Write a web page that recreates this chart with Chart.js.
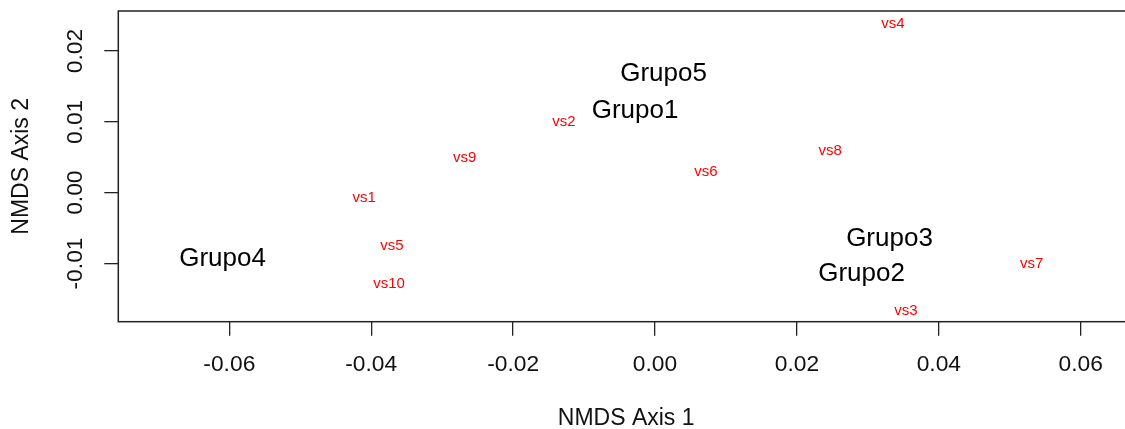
<!DOCTYPE html>
<html>
<head>
<meta charset="utf-8">
<script src="https://cdn.jsdelivr.net/npm/chart.js@4/dist/chart.umd.min.js"></script>
<style>
  html, body { margin: 0; padding: 0; background: #fff; overflow: hidden; }
  #wrap { width: 1140px; height: 429px; }
</style>
</head>
<body>
<div id="wrap"><canvas id="c" width="1140" height="429"></canvas></div>
<script>
// ---- data ----
const siteLabels = ['vs1', 'vs2', 'vs3', 'vs4', 'vs5', 'vs6', 'vs7', 'vs8', 'vs9', 'vs10'];
const siteX = [-0.0410, -0.01285, 0.03538, 0.03352, -0.03707, 0.00719, 0.05309, 0.02467, -0.02682, -0.03749];
const siteY = [-0.00075, 0.01003, -0.01664, 0.02386, -0.00753, 0.00299, -0.01007, 0.00589, 0.00486, -0.01282];

const groupLabels = ['Grupo1', 'Grupo2', 'Grupo3', 'Grupo4', 'Grupo5'];
const groupX = [-0.00282, 0.02911, 0.03305, -0.06096, 0.0012];
const groupY = [0.01154, -0.01148, -0.00647, -0.00929, 0.01677];

const xTicks = [-0.06, -0.04, -0.02, 0.00, 0.02, 0.04, 0.06];
const xTickLabels = ['-0.06', '-0.04', '-0.02', '0.00', '0.02', '0.04', '0.06'];
const yTicks = [-0.01, 0.00, 0.01, 0.02];
const yTickLabels = ['-0.01', '0.00', '0.01', '0.02'];

const xRange = [-0.07565, 0.06751];
const yRange = [-0.01822, 0.02566];

const xTitle = 'NMDS Axis 1';
const yTitle = 'NMDS Axis 2';

// ---- styles ----
const FONT = '"Liberation Sans", Arial, Helvetica, sans-serif';
const toPts = (xs, ys) => xs.map((x, i) => ({ x: x, y: ys[i] }));

const textLabels = {
  id: 'textLabels',
  afterDatasetsDraw(chart) {
    const ctx = chart.ctx;
    chart.data.datasets.forEach((ds, di) => {
      const meta = chart.getDatasetMeta(di);
      ctx.save();
      ctx.fillStyle = ds.textColor;
      ctx.font = ds.textFont;
      ctx.textAlign = 'center';
      ctx.textBaseline = 'middle';
      meta.data.forEach((el, i) => {
        ctx.fillText(ds.labels[i], el.x, el.y);
      });
      ctx.restore();
    });
  },
  afterDraw(chart) {
    const ctx = chart.ctx;
    const a = chart.chartArea;
    ctx.save();
    ctx.strokeStyle = '#222';
    ctx.lineWidth = 1.5;
    ctx.strokeRect(a.left, a.top, a.right - a.left, a.bottom - a.top);
    // rotated y tick labels (R style, parallel to axis)
    const ys = chart.scales.y;
    ctx.fillStyle = '#111';
    ctx.font = '22.8px ' + FONT;
    ctx.textAlign = 'center';
    ctx.textBaseline = 'middle';
    yTicks.forEach((v, i) => {
      const py = ys.getPixelForValue(v);
      ctx.save();
      ctx.translate(76, py);
      ctx.rotate(-Math.PI / 2);
      ctx.fillText(yTickLabels[i], 0, 0);
      ctx.restore();
    });
    ctx.restore();
  }
};

new Chart(document.getElementById('c'), {
  type: 'scatter',
  data: {
    datasets: [
      { data: toPts(siteX, siteY), labels: siteLabels, textColor: '#ff0000', textFont: '15px ' + FONT, pointRadius: 0 },
      { data: toPts(groupX, groupY), labels: groupLabels, textColor: '#000000', textFont: '26px ' + FONT, pointRadius: 0 }
    ]
  },
  options: {
    responsive: false,
    animation: false,
    devicePixelRatio: 1,
    layout: { padding: { top: 11, right: 6, left: 0, bottom: 0 } },
    plugins: { legend: { display: false }, tooltip: { enabled: false } },
    scales: {
      x: {
        type: 'linear',
        min: xRange[0], max: xRange[1],
        afterBuildTicks(s) { s.ticks = xTicks.map(v => ({ value: v })); },
        afterFit(s) { s.height = 107.3; },
        ticks: {
          autoSkip: false, maxRotation: 0, minRotation: 0,
          color: '#111',
          font: { family: FONT, size: 22.8 },
          padding: 15.6,
          callback(v, i) { return xTickLabels[i]; }
        },
        grid: { display: true, drawOnChartArea: false, drawTicks: true, tickLength: 14, color: '#222', lineWidth: 1.3 },
        border: { display: false },
        title: { display: true, text: xTitle, color: '#111', font: { family: FONT, size: 23 }, padding: { top: 0, bottom: -3.3 } }
      },
      y: {
        type: 'linear',
        min: yRange[0], max: yRange[1],
        afterBuildTicks(s) { s.ticks = yTicks.map(v => ({ value: v })); },
        afterFit(s) { s.width = 118.3; },
        ticks: {
          display: false,
          autoSkip: false,
          callback(v, i) { return yTickLabels[i]; }
        },
        grid: { display: true, drawOnChartArea: false, drawTicks: true, tickLength: 14, color: '#222', lineWidth: 1.3 },
        border: { display: false },
        title: { display: true, text: yTitle, color: '#111', font: { family: FONT, size: 23 }, padding: { top: 8, bottom: 0 } }
      }
    }
  },
  plugins: [textLabels]
});
</script>
</body>
</html>
